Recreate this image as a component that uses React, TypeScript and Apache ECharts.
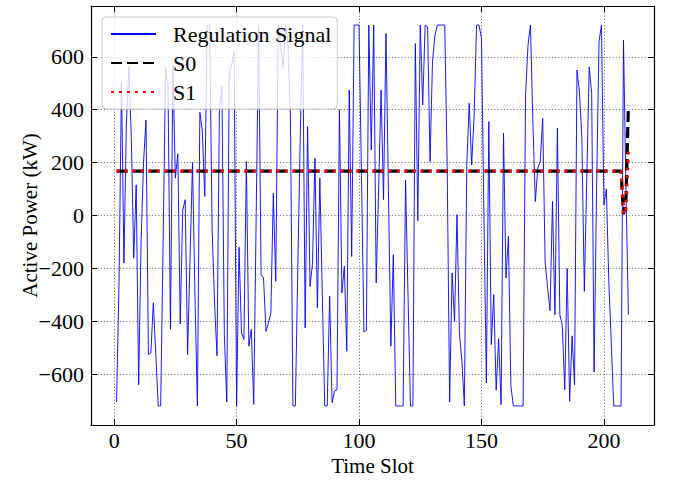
import React, { useEffect, useRef } from "react";
import * as echarts from "echarts";

const FONT = "Liberation Serif";

const xTicks = [0, 50, 100, 150, 200];
const yTicks = [-600, -400, -200, 0, 200, 400, 600];

const regulationSignal = [
  -705, -250, 506, -180, 350, 562, 300, -161, 116, -640,
  -100, 200, 361, -526, -520, -330, -520, -720, -720, -100,
  556, 480, -430, 570, 141, 233, -410, 20, 60, -526,
  -160, 200, -300, -720, 390, 320, 72, 720, 720, -50,
  -330, -530, 410, 487, -450, -705, 550, 568, 620, -720,
  -120, -444, -469, 204, -494, -430, -714, 0, 720, -224,
  -236, -438, -406, -369, 84, -249, 720, 640, 560, 720,
  650, 370, -720, -720, -200, 300, 720, -425, 336, -268,
  -180, 216, -350, 141, -300, -720, -720, -305, -707, -664,
  -658, 400, -293, -192, -513, 474, -155, 720, 720, 720,
  150, -440, -435, 720, 248, 720, -255, 100, 474, 60,
  688, 100, -494, -148, -720, -720, -720, -720, 134, -300,
  -720, -720, 650, -20, 720, 418, 720, 713, 204, 581,
  682, 720, 720, 720, 720, 185, -705, -217, -400, 3,
  -444, -550, -720, 194, 424, 191, 380, 720, 720, 669,
  0, -633, 355, -488, -299, -660, -466, -715, 311, -236,
  -79, -642, -720, -720, -720, -720, -720, 455, 644, 720,
  350, 53, 179, 204, 367, -177, -274, -360, 53, -375,
  330, -375, -416, -658, -200, -702, -455, -640, 550, 468,
  292, -287, 141, 562, 461, -592, 100, 657, 720, 40,
  100, -250, -480, -720, -720, -720, -720, 663, 100, -375,
];

// S0 / S1 breakpoints (time slot, value)
const s0Slots = [1, 207, 208, 209, 210];
const s0Values = [168, 168, 5, 60, 415];
const s1Slots = [1, 207, 208, 209, 210];
const s1Values = [168, 168, 5, 20, 248];

const fmt = (v: number) => (v < 0 ? "\u2212" + Math.abs(v) : String(v));

export default function App() {
  const ref = useRef<HTMLDivElement>(null);
  useEffect(() => {
    if (!ref.current) return;
    const chart = echarts.init(ref.current, null, { renderer: "svg" });
    const gridLine = { show: true, lineStyle: { color: "#6e6e6e", type: [1.2, 2], width: 0.9 } };
    const axisLine = { show: true, onZero: false, lineStyle: { color: "#000", width: 1.2 } };
    const tickStyle = { show: true, inside: true, length: 6, lineStyle: { color: "#000", width: 1 } };
    const labelText = {
      fontFamily: FONT,
      fontSize: 21,
      color: "#000",
      fontWeight: "normal" as const,
    };
    const tickText = { ...labelText, fontSize: 22 };
    chart.setOption({
      animation: false,
      backgroundColor: "#fff",
      textStyle: { fontFamily: FONT, fontSize: 21, color: "#000" },
      grid: { left: 91, right: 20, top: 6, bottom: 55 },
      legend: {
        left: 102,
        top: 17,
        orient: "vertical",
        padding: [6, 6, 6, 8],
        itemGap: 7,
        itemWidth: 45,
        itemHeight: 24,
        backgroundColor: "rgba(255,255,255,0.8)",
        borderColor: "#cccccc",
        borderWidth: 1,
        borderRadius: 4,
        itemStyle: { opacity: 0 },
        textStyle: { fontFamily: FONT, fontSize: 22, color: "#000", padding: [0, 0, 0, 12] },
        data: ["Regulation Signal", "S0", "S1"],
      },
      xAxis: [
        {
          type: "value",
          min: -9.45,
          max: 220.45,
          name: "Time Slot",
          nameLocation: "middle",
          nameGap: 30,
          nameMoveOverlap: false,
          nameTextStyle: { ...labelText },
          axisLine,
          axisTick: { ...tickStyle, customValues: xTicks },
          axisLabel: { ...tickText, customValues: xTicks, margin: 4 },
          splitLine: gridLine,
        },
        {
          type: "value",
          position: "top",
          min: -9.45,
          max: 220.45,
          axisLine,
          axisTick: { ...tickStyle, customValues: xTicks },
          axisLabel: { show: false },
          splitLine: { show: false },
        },
      ],
      yAxis: [
        {
          type: "value",
          min: -792,
          max: 792,
          name: "Active Power (kW)",
          nameLocation: "middle",
          nameGap: 51,
          nameMoveOverlap: false,
          nameTextStyle: { ...labelText },
          axisLine,
          axisTick: { ...tickStyle, customValues: yTicks },
          axisLabel: { ...tickText, customValues: yTicks, formatter: fmt, margin: 7 },
          splitLine: gridLine,
        },
        {
          type: "value",
          position: "right",
          min: -792,
          max: 792,
          axisLine,
          axisTick: { ...tickStyle, customValues: yTicks },
          axisLabel: { show: false },
          splitLine: { show: false },
        },
      ],
      series: [
        {
          name: "Regulation Signal",
          type: "line",
          symbol: "none",
          data: regulationSignal.map((v, i) => [i + 1, v]),
          lineStyle: { color: "#0000ff", width: 0.9 },
          itemStyle: { color: "#0000ff" },
          z: 2,
        },
        {
          name: "S0",
          type: "line",
          symbol: "none",
          data: s0Values.map((v, i) => [s0Slots[i], v]),
          lineStyle: { color: "#000", width: 3.2, type: [11, 5] },
          itemStyle: { color: "#000" },
          z: 3,
        },
        {
          name: "S1",
          type: "line",
          symbol: "none",
          data: s1Values.map((v, i) => [s1Slots[i], v]),
          lineStyle: { color: "#ff0000", width: 3, type: [3, 5] },
          itemStyle: { color: "#ff0000" },
          z: 4,
        },
      ],
    });
    return () => chart.dispose();
  }, []);
  return (
    <div
      ref={ref}
      style={{ position: "fixed", left: 0, top: 0, width: 674, height: 481 }}
    />
  );
}
